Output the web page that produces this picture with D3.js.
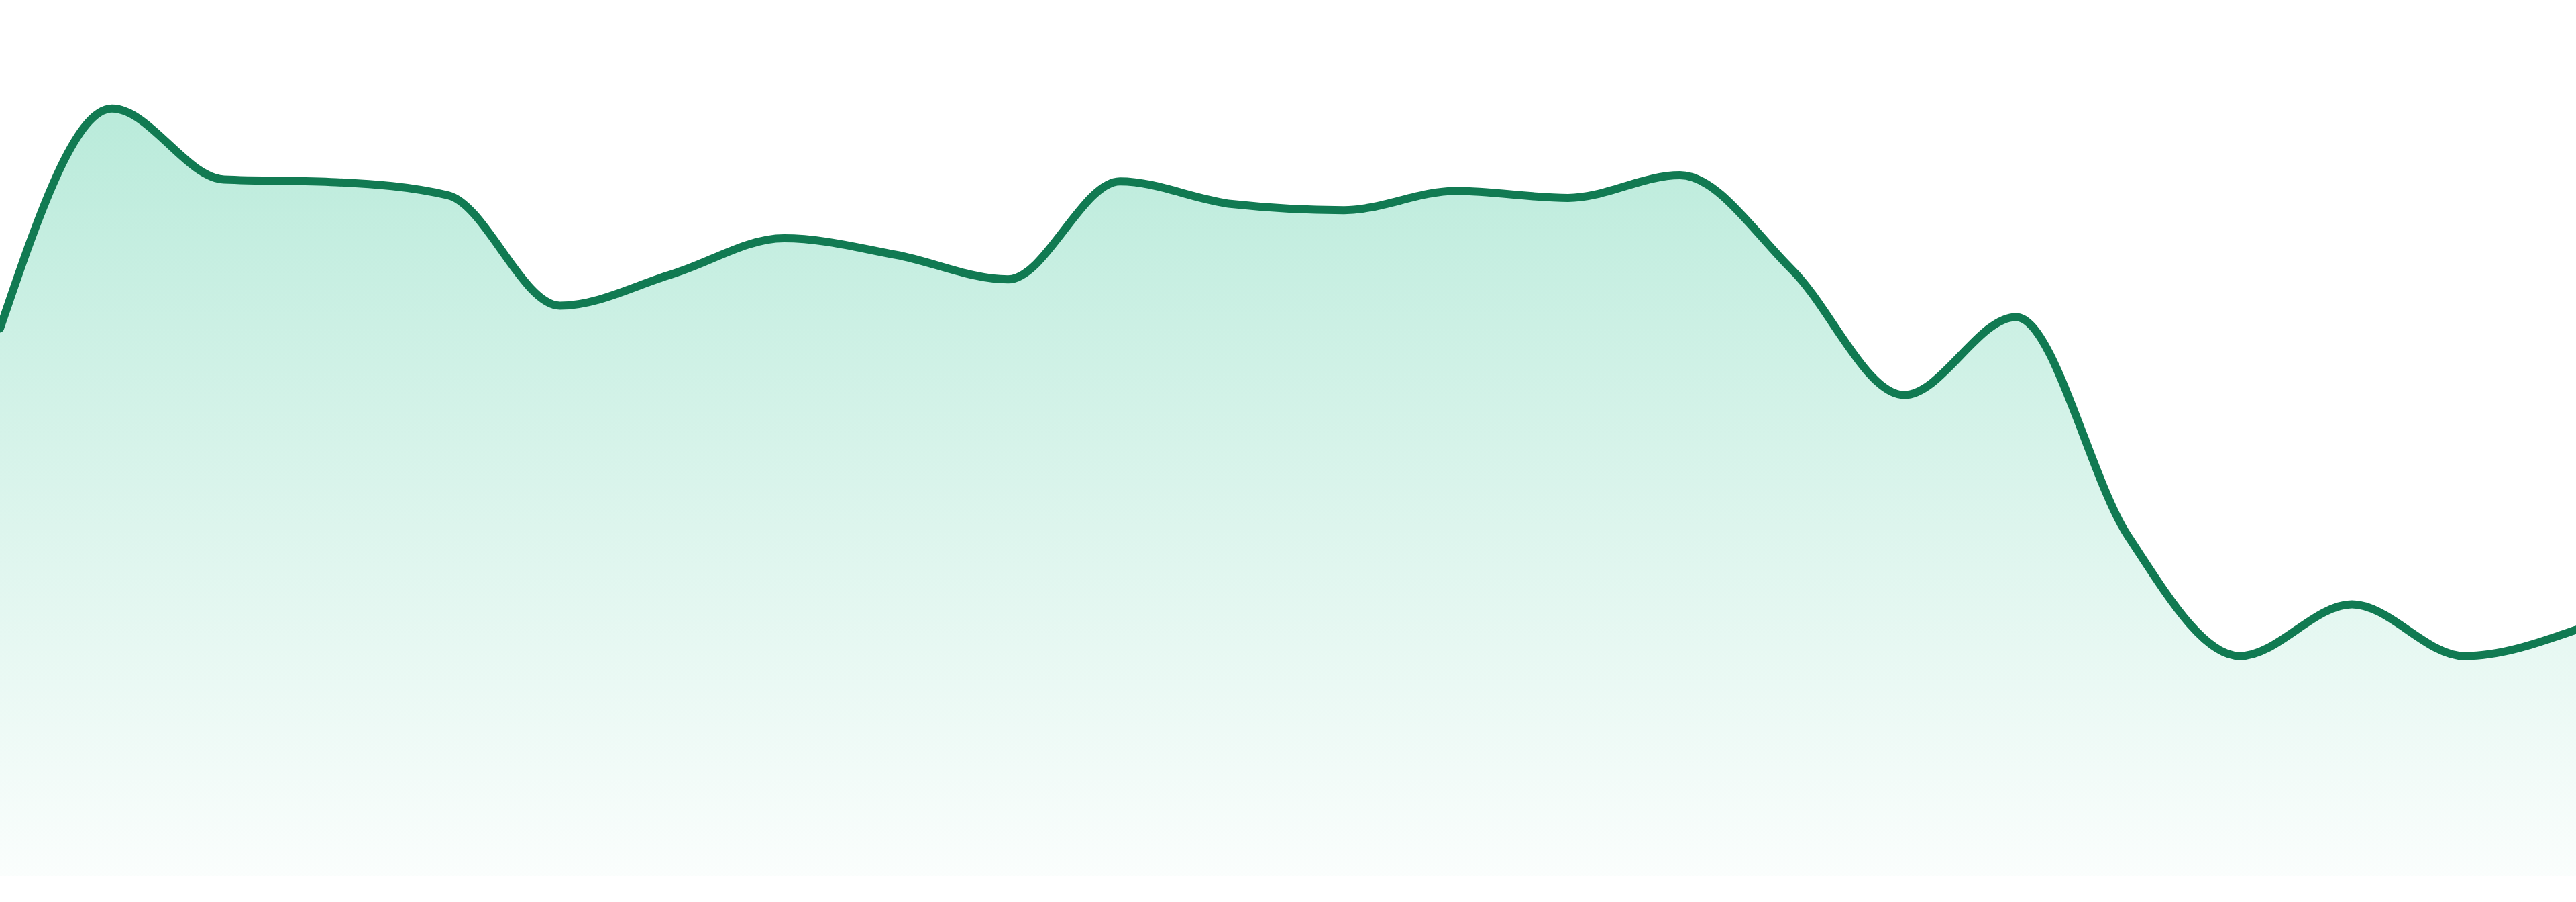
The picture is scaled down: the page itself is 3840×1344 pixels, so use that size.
<!DOCTYPE html>
<meta charset="utf-8">
<style>
body { margin: 0; background: #fff; }
svg { display: block; }
.line {
    fill: none;
    stroke: #117a52;
    stroke-width: 12;
    stroke-linejoin: round;
    stroke-linecap: round;
}
</style>
<body>
<div id="chart"></div>
<script src="https://d3js.org/d3.v7.min.js"></script>
<script>

// one value per step, left edge to right edge
var steps = d3.range(24);
var values = [62.5, 87.6, 79.5, 79.2, 77.7, 65.1, 68.7, 72.8, 70.9, 68.1,
              79.3, 76.7, 76.0, 78.2, 77.4, 80.0, 69.2, 54.9, 63.8, 38.8,
              25.1, 31.0, 25.1, 28.1];

var width = 3840,
    height = 1344,
    bottom = 1305;

var data = steps.map((s, i) => ({step: s, value: values[i]}));

var svg = d3.select("#chart")
  .append("svg")
  .attr("width", width)
  .attr("height", height);

var xScale = d3.scaleLinear().domain([0, steps.length - 1]).range([0, width]);
var yScale = d3.scaleLinear().domain([0, 100]).range([bottom, 0]);

// fading fill under the curve
var grad = svg.append("defs").append("linearGradient")
  .attr("id", "fade")
  .attr("x1", 0).attr("y1", 0)
  .attr("x2", 0).attr("y2", 1);
grad.append("stop").attr("offset", "0%").attr("stop-color", "#10b981").attr("stop-opacity", 0.29);
grad.append("stop").attr("offset", "100%").attr("stop-color", "#10b981").attr("stop-opacity", 0.02);

var area = d3.area()
  .x(d => xScale(d.step))
  .y0(yScale(0))
  .y1(d => yScale(d.value))
  .curve(d3.curveMonotoneX);

var line = d3.line()
  .x(d => xScale(d.step))
  .y(d => yScale(d.value))
  .curve(d3.curveMonotoneX);

svg.append("path")
  .datum(data)
  .attr("fill", "url(#fade)")
  .attr("d", area);

svg.append("path")
  .datum(data)
  .attr("class", "line")
  .attr("d", line);

</script>
</body>
